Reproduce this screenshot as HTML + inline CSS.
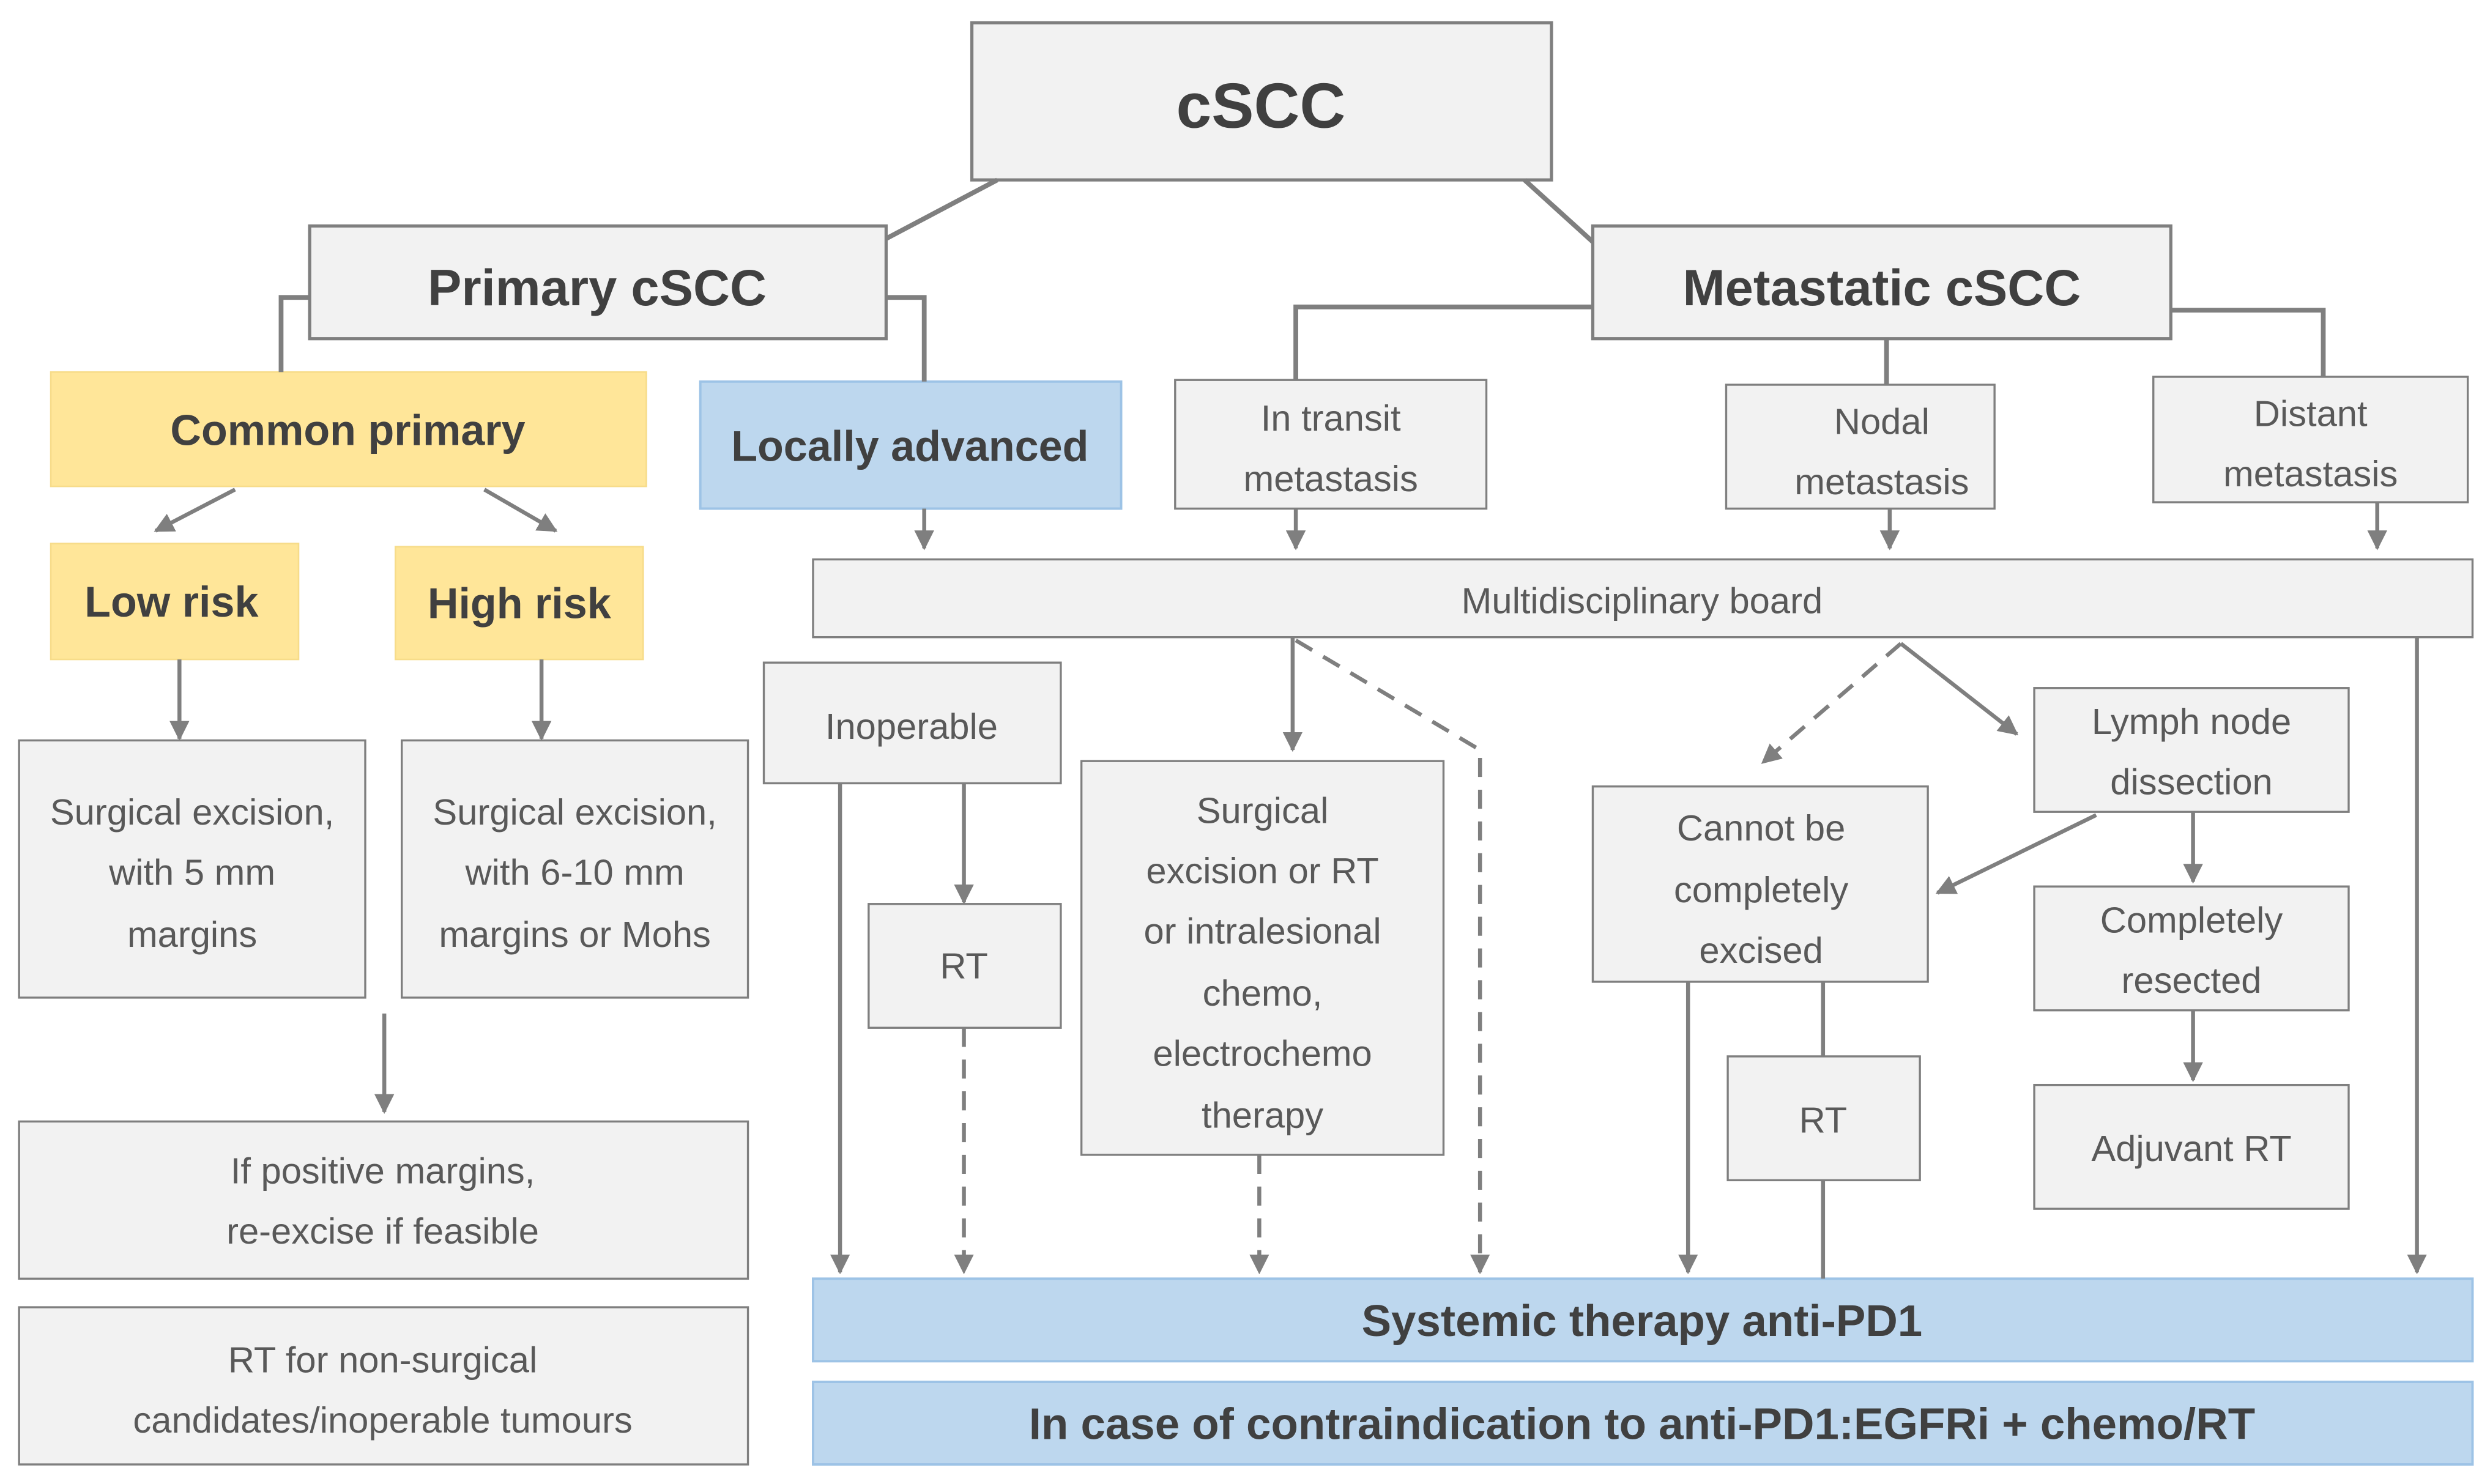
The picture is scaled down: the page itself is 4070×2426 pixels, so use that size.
<!DOCTYPE html>
<html><head><meta charset="utf-8"><style>
html,body{margin:0;padding:0;background:#fff;}
svg{display:block;}
text{font-family:"Liberation Sans Narrow","Liberation Sans",sans-serif;text-anchor:middle;}
.b{font-weight:bold;fill:#404040;}
.n{fill:#595959;font-size:23px;}
</style></head><body>
<svg width="4070" height="2426" viewBox="0 0 1568 934" xmlns="http://www.w3.org/2000/svg">
<defs>
<marker id="a" viewBox="0 0 10 10" refX="9" refY="5" markerWidth="5" markerHeight="5" orient="auto"><path d="M0,0L10,5L0,10z" fill="#7f7f7f"/></marker>
</defs>
<rect width="1568" height="934" fill="#fff"/>
<g fill="#f2f2f2" stroke="#7f7f7f" stroke-width="2">
<rect x="612" y="14" width="365" height="99"/>
<rect x="195" y="142" width="363" height="71"/>
<rect x="1003" y="142" width="364" height="71"/>
<rect x="740" y="239" width="196" height="81" stroke-width="1.3"/>
<rect x="1087" y="242" width="169" height="78" stroke-width="1.3"/>
<rect x="1356" y="237" width="198" height="79" stroke-width="1.3"/>
<rect x="512" y="352" width="1045" height="49" stroke-width="1.3"/>
<rect x="12" y="466" width="218" height="162" stroke-width="1.3"/>
<rect x="253" y="466" width="218" height="162" stroke-width="1.3"/>
<rect x="12" y="706" width="459" height="99" stroke-width="1.3"/>
<rect x="12" y="823" width="459" height="99" stroke-width="1.3"/>
<rect x="481" y="417" width="187" height="76" stroke-width="1.3"/>
<rect x="547" y="569" width="121" height="78" stroke-width="1.3"/>
<rect x="681" y="479" width="228" height="248" stroke-width="1.3"/>
<rect x="1003" y="495" width="211" height="123" stroke-width="1.3"/>
<rect x="1281" y="433" width="198" height="78" stroke-width="1.3"/>
<rect x="1281" y="558" width="198" height="78" stroke-width="1.3"/>
<rect x="1281" y="683" width="198" height="78" stroke-width="1.3"/>
<rect x="1088" y="665" width="121" height="78" stroke-width="1.3"/>
</g>
<g fill="#ffe699" stroke="#f7dc8a" stroke-width="1">
<rect x="32" y="234" width="375" height="72"/>
<rect x="32" y="342" width="156" height="73"/>
<rect x="249" y="344" width="156" height="71"/>
</g>
<g fill="#bdd7ee" stroke="#9dc3e6" stroke-width="1.5">
<rect x="441" y="240" width="265" height="80"/>
<rect x="512" y="805" width="1045" height="52"/>
<rect x="512" y="870" width="1045" height="52"/>
</g>
<g stroke="#7f7f7f" stroke-width="3" fill="none">
<path d="M628,113L558,150"/><path d="M960,113L1003,152"/>
<path d="M195,187H177V234"/><path d="M558,187H582V240"/>
<path d="M1003,193H816V239"/><path d="M1188,213V242"/><path d="M1367,195H1463V237"/>
</g>
<g stroke="#7f7f7f" stroke-width="2.5" fill="none" marker-end="url(#a)">
<path d="M582,320V345"/><path d="M816,320V345"/><path d="M1190,320V345"/><path d="M1497,316V345"/>
<path d="M148,308L98,334"/><path d="M305,308L350,334"/>
<path d="M113,415V465"/><path d="M341,415V465"/>
<path d="M242,638V700"/>
<path d="M607,493V568"/><path d="M529,493V801"/>
<path d="M814,401V472"/>
<path d="M1197,405L1270,462"/>
<path d="M1320,513L1220,562"/>
<path d="M1381,511V555"/><path d="M1381,636V680"/>
<path d="M1063,618V801"/><path d="M1522,401V801"/>
</g>
<g stroke="#7f7f7f" stroke-width="2.5" fill="none" stroke-dasharray="12,8" marker-end="url(#a)">
<path d="M607,647V801"/>
<path d="M816,403L932,472V801"/>
<path d="M793,727V801"/>
<path d="M1197,405L1110,480"/>
</g>
<g stroke="#7f7f7f" stroke-width="2.5">
<path d="M1148,618V665"/><path d="M1148,743V805"/>
</g>
<text class="b" x="794" y="80" font-size="40">cSCC</text>
<text class="b" x="376" y="192" font-size="32">Primary  cSCC</text>
<text class="b" x="1185" y="192" font-size="32">Metastatic cSCC</text>
<text class="b" x="219" y="280" font-size="27">Common primary</text>
<text class="b" x="108" y="388" font-size="27">Low risk</text>
<text class="b" x="327" y="389" font-size="27">High risk</text>
<text class="b" x="573" y="290" font-size="27">Locally advanced</text>
<text class="n" x="838" y="271">In transit</text><text class="n" x="838" y="309">metastasis</text>
<text class="n" x="1185" y="273">Nodal</text><text class="n" x="1185" y="311">metastasis</text>
<text class="n" x="1455" y="268">Distant</text><text class="n" x="1455" y="306">metastasis</text>
<text class="n" x="1034" y="386">Multidisciplinary board</text>
<text class="n" x="121" y="519">Surgical excision,</text><text class="n" x="121" y="557">with 5 mm</text><text class="n" x="121" y="596">margins</text>
<text class="n" x="362" y="519">Surgical excision,</text><text class="n" x="362" y="557">with 6-10 mm</text><text class="n" x="362" y="596">margins or Mohs</text>
<text class="n" x="241" y="745">If positive margins,</text><text class="n" x="241" y="783">re-excise if feasible</text>
<text class="n" x="241" y="864">RT for non-surgical</text><text class="n" x="241" y="902">candidates/inoperable tumours</text>
<text class="n" x="574" y="465">Inoperable</text>
<text class="n" x="607" y="616">RT</text>
<text class="n" x="795" y="518">Surgical</text><text class="n" x="795" y="556">excision or RT</text><text class="n" x="795" y="594">or intralesional</text><text class="n" x="795" y="633">chemo,</text><text class="n" x="795" y="671">electrochemo</text><text class="n" x="795" y="710">therapy</text>
<text class="n" x="1109" y="529">Cannot be</text><text class="n" x="1109" y="568">completely</text><text class="n" x="1109" y="606">excised</text>
<text class="n" x="1380" y="462">Lymph node</text><text class="n" x="1380" y="500">dissection</text>
<text class="n" x="1380" y="587">Completely</text><text class="n" x="1380" y="625">resected</text>
<text class="n" x="1380" y="731">Adjuvant RT</text>
<text class="n" x="1148" y="713">RT</text>
<text class="b" x="1034" y="841" font-size="28">Systemic therapy anti-PD1</text>
<text class="b" x="1034" y="906" font-size="28">In case of contraindication to anti-PD1:EGFRi + chemo/RT</text>
</svg>
</body></html>
